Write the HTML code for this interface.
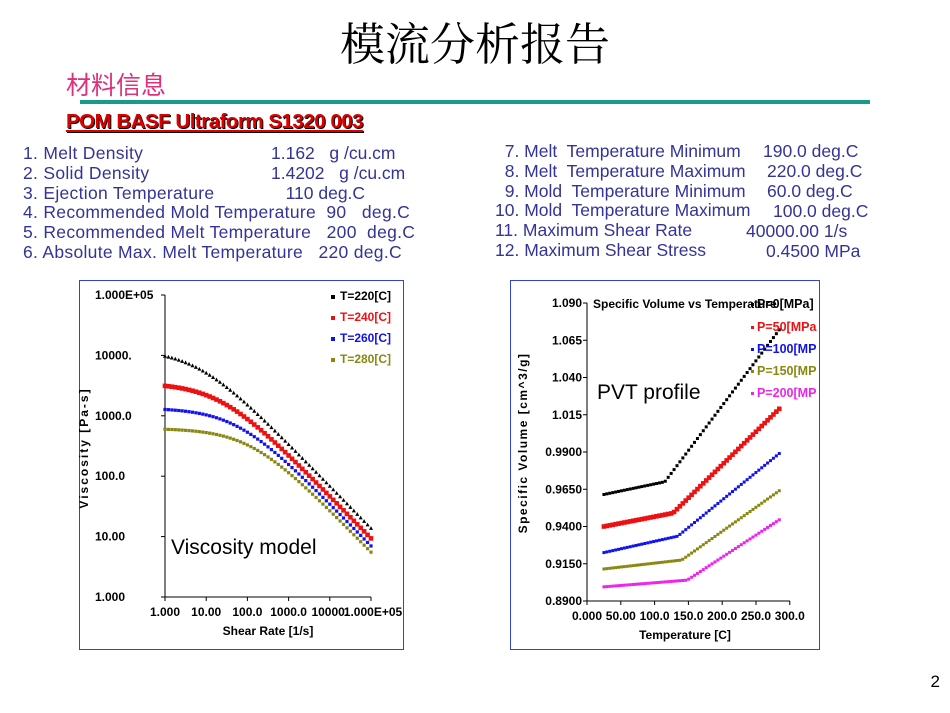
<!DOCTYPE html>
<html><head><meta charset="utf-8"><style>
body{margin:0;width:950px;height:713px;background:#fff;position:relative;overflow:hidden;font-family:"Liberation Sans","Noto Sans CJK SC",sans-serif}
.a{position:absolute;white-space:pre}
.l{color:#333399;font-size:17.5px;line-height:19.8px}
.w{letter-spacing:0.3px}
</style></head><body>
<div class="a" style="left:0;width:950px;text-align:center;top:8px;font-size:45px;font-family:'Noto Serif CJK SC','Noto Sans CJK SC',serif;color:#000">模流分析报告</div>
<div class="a" style="left:66px;top:66px;font-size:25px;color:#e0307a">材料信息</div>
<div class="a" style="left:80px;top:100px;width:790px;height:4px;background:#1a9a8c"></div>
<div class="a" style="left:66px;top:110px;font-size:20.5px;font-weight:bold;color:#dd0000;text-decoration:underline;text-shadow:1px 1px 0 #000;letter-spacing:-0.5px">POM BASF Ultraform S1320 003</div>
<div class="a l w" style="left:23px;top:144px">1. Melt Density<br>2. Solid Density<br>3. Ejection Temperature<br>4. Recommended Mold Temperature  90   deg.C<br>5. Recommended Melt Temperature   200  deg.C<br>6. Absolute Max. Melt Temperature   220 deg.C</div>
<div class="a l" style="left:271px;top:144px">1.162   g /cu.cm<br>1.4202   g /cu.cm<br>   110 deg.C</div>
<div class="a l" style="left:495px;top:142px">  7. Melt  Temperature Minimum<br>  8. Melt  Temperature Maximum<br>  9. Mold  Temperature Minimum<br>10. Mold  Temperature Maximum<br>11. Maximum Shear Rate<br>12. Maximum Shear Stress</div>
<div class="a l" style="left:763px;top:142px">190.0 deg.C</div>
<div class="a l" style="left:767px;top:162px">220.0 deg.C</div>
<div class="a l" style="left:767px;top:182px">60.0 deg.C</div>
<div class="a l" style="left:773px;top:202px">100.0 deg.C</div>
<div class="a l" style="left:746px;top:222px">40000.00 1/s</div>
<div class="a l" style="left:766px;top:242px">0.4500 MPa</div>
<div class="a" style="right:10px;top:672px;font-size:17px">2</div>
<svg class="a" style="left:0;top:0" width="950" height="713" id="s" font-family="Liberation Sans, sans-serif">
<rect x="79.5" y="280.5" width="324" height="369" fill="none" stroke="#3344cc"/>
<rect x="510.5" y="280.5" width="309" height="369" fill="none" stroke="#3344cc"/>
<g id="g"></g>
</svg>
<script>
var g=document.getElementById('g'),h='';
function L(x1,y1,x2,y2,c){h+='<line x1="'+x1+'" y1="'+y1+'" x2="'+x2+'" y2="'+y2+'" stroke="'+(c||'#000')+'"/>';}
function T(x,y,t,o){h+='<text x="'+x+'" y="'+y+'" font-size="'+(o.s||11)+'" font-weight="'+(o.w||'bold')+'" fill="'+(o.c||'#000')+'" text-anchor="'+(o.a||'start')+'"'+(o.t?' transform="'+o.t+'"':'')+(o.ls?' letter-spacing="'+o.ls+'"':'')+'>'+t+'</text>';}
L(165,295,165,597);L(165,597,371,597);
var yl=['1.000E+05','10000.','1000.0','100.0','10.00','1.000'];
for(var i=0;i<6;i++){var y=295+i*60.4;L(161,y,165,y);T(95,y+4,yl[i],{s:12});}
var xl=['1.000','10.00','100.0','1000.0','10000.','1.000E+05'];
for(var i=0;i<6;i++){var x=165+i*41.2;L(x,597,x,601);}
for(var i=0;i<6;i++){var x=165+i*41.2;T(i==5?x+2:x,616,xl[i],{s:12,a:'middle'});}
T(268,635,'Shear Rate [1/s]',{s:12,a:'middle'});
T(88,448,'Viscosity [Pa-s]',{s:12,a:'middle',t:'rotate(-90 88 448)',ls:'2'});
function vy(e){return 597-Math.log10(e)*60.4;}
var vs=[[12500,'#000'],[3500,'#ee1111'],[1350,'#1111ee'],[620,'#888811']];
vs.forEach(function(s,k){for(var i=0;i<=60;i++){var lg=i*5/60,gm=Math.pow(10,lg);var e=s[0]/(1+Math.pow(s[0]*gm/74000,0.7));var x=165+lg*41.2,y=vy(e);
 var r=k==1?2.3:1.6;if(k==0)h+='<polygon points="'+x+','+(y-2.2)+' '+(x-2)+','+(y+1.6)+' '+(x+2)+','+(y+1.6)+'" fill="#000"/>';else h+='<rect x="'+(x-r)+'" y="'+(y-r)+'" width="'+2*r+'" height="'+2*r+'" fill="'+s[1]+'"/>';}});
var lg=[['T=220[C]','#000',300],['T=240[C]','#ee1111',321],['T=260[C]','#1111ee',342],['T=280[C]','#888811',363]];
lg.forEach(function(a){h+='<rect x="331" y="'+(a[2]-5)+'" width="4" height="4" fill="'+a[1]+'"/>';T(340,a[2],a[0],{c:a[1],s:12});});
T(171,554,'Viscosity model',{s:21,w:'normal'});
L(587,303,587,601);L(587,601,790,601);
var pl=['1.090','1.065','1.040','1.015','0.9900','0.9650','0.9400','0.9150','0.8900'];
for(var i=0;i<9;i++){var y=303+i*37.25;L(583,y,587,y);T(582,y+4,pl[i],{a:'end',s:12});}
var px_l=['0.000','50.00','100.0','150.0','200.0','250.0','300.0'];
for(var i=0;i<7;i++){var x=587+i*33.8;L(x,601,x,605);T(x,620,px_l[i],{s:12,a:'middle'});}
T(685,639,'Temperature [C]',{s:12,a:'middle'});
T(527,443,'Specific Volume [cm^3/g]',{s:12,a:'middle',t:'rotate(-90 527 443)',ls:'1.5'});
T(593,308,'Specific Volume vs Temperature',{s:12});
function px(t){return 587+t*0.677;}function py(v){return 601-(v-0.89)/0.025*37.25;}
var ps=[[0.9615,115,0.970,1.072,'#000'],[0.940,127,0.949,1.019,'#ee1111'],[0.9225,134,0.9335,0.989,'#1111ee'],[0.9115,140,0.9175,0.964,'#888811'],[0.8995,148,0.904,0.9445,'#ee22ee']];
ps.forEach(function(s,k){for(var i=0;i<=60;i++){var t=25+i*259/60,v;if(t<=s[1])v=s[0]+(s[2]-s[0])*(t-25)/(s[1]-25);else v=s[2]+(s[3]-s[2])*(t-s[1])/(284-s[1]);
 var x=px(t),y=py(v),r=k==1?2.3:1.5;h+='<rect x="'+(x-r)+'" y="'+(y-r)+'" width="'+2*r+'" height="'+2*r+'" fill="'+s[4]+'"/>';}});
var pg=[['P=0[MPa]','#000',308],['P=50[MPa','#ee1111',331],['P=100[MP','#1111ee',353],['P=150[MP','#888811',375],['P=200[MP','#ee22ee',397]];
pg.forEach(function(a){h+='<rect x="751" y="'+(a[2]-5)+'" width="3" height="3" fill="'+a[1]+'"/>';T(757,a[2],a[0],{c:a[1],s:12.5});});
T(597,399,'PVT profile',{s:21,w:'normal'});
g.innerHTML=h;
</script>
</body></html>
